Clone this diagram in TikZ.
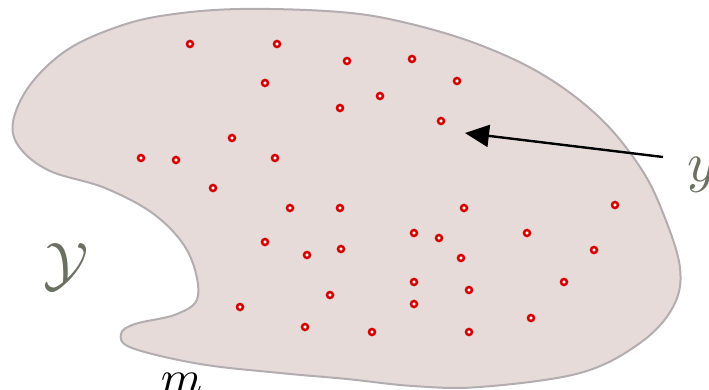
\documentclass[tikz,border=0pt]{standalone}
\usetikzlibrary{arrows.meta}
\definecolor{blobfill}{HTML}{E6DBD8}
\definecolor{blobline}{HTML}{B3ACB0}
\definecolor{dotred}{HTML}{D40000}
\definecolor{labgray}{HTML}{6C7060}
\tikzset{
  pt/.style={circle,draw=dotred,line width=2.5pt,minimum size=6pt,inner sep=0pt,fill=white},
  lab/.style={inner sep=0pt,text=labgray},
}
\begin{document}
\begin{tikzpicture}[x=1pt,y=-1pt]
\useasboundingbox (0,0) rectangle (709,390);
\begin{scope}
\clip (0,0) rectangle (709,390);
\draw[blobline,fill=blobfill,line width=2pt] plot[smooth cycle,tension=0.6] coordinates {
(13,122) (30,85) (67,50) (117,27) (167,15) (240,9) (340,12) (407,23) (480,45)
(545,76) (600,118) (640,167) (663,213) (680,268) (673,307) (640,343)
(580,373) (480,387) (413,386) (347,379) (280,373) (200,364)
(132,348) (121,334) (135,324) (177,314) (198,296) (188,252) (155,215) (105,188)
(50,171) (20,148)};
\foreach \x/\y [count=\i] in {190/44,277/44,347/61,412/59,265/83,457/81,380/96,340/108,441/121,
232/138,141/158,176/160,275/158,213/188,290/208,340/208,464/208,615/205,265/242,307/255,341/249,
414/233,439/238,461/258,527/233,594/250,564/282,414/282,469/290,330/295,414/304,240/307,531/318,
305/327,372/332,469/332}
  \node[pt] (p\i) at (\x,\y) {};
\node[lab,anchor=base west,scale=5.6] (ylab) at (686,182) {$y$};
\coordinate (tip) at (465,133);
\coordinate (tail) at (663,157);
\draw[line width=2.4pt,-{Triangle[length=24pt,width=22pt]}] (tail) -- (tip);
\node[lab,anchor=base west,scale=6] (Ylab) at (42,284) {$\mathcal{Y}$};
\node[inner sep=0pt,anchor=base west,scale=4.7] (mlab) at (160,393) {$m$};
\end{scope}
\end{tikzpicture}
\end{document}
